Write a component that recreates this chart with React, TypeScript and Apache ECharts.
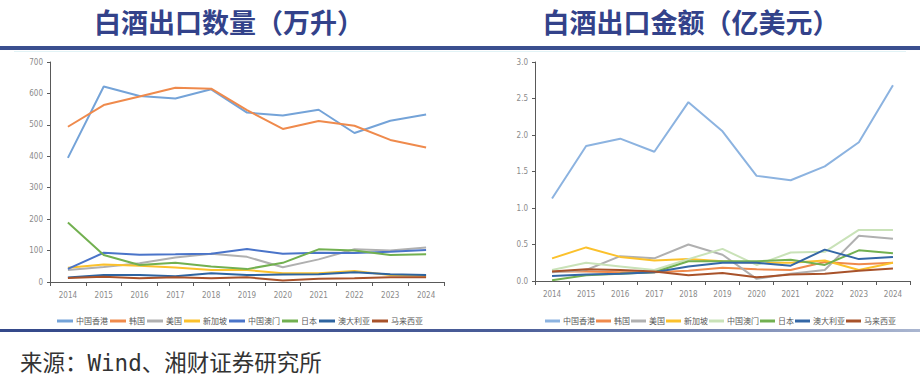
import React, { useEffect, useRef } from "react";
import * as echarts from "echarts";

const years = ["2014", "2015", "2016", "2017", "2018", "2019", "2020", "2021", "2022", "2023", "2024"];
const names = ["中国香港", "韩国", "美国", "新加坡", "中国澳门", "日本", "澳大利亚", "马来西亚"];

// 出口数量（万升）
const volHK = [395, 622, 592, 584, 613, 539, 530, 548, 474, 513, 533];
const volKR = [494, 563, 590, 618, 615, 547, 487, 512, 497, 452, 428];
const volUS = [38, 48, 60, 78, 90, 80, 47, 72, 104, 100, 110];
const volSG = [45, 56, 52, 46, 38, 38, 28, 28, 35, 22, 20];
const volMO = [42, 93, 87, 88, 90, 105, 90, 93, 92, 96, 102];
const volJP = [189, 86, 54, 61, 49, 41, 61, 104, 100, 86, 88];
const volAU = [14, 22, 22, 18, 28, 22, 24, 25, 31, 25, 22];
const volMY = [13, 17, 12, 15, 12, 15, 5, 10, 12, 15, 15];

// 出口金额（亿美元）
const valHK = [1.13, 1.85, 1.95, 1.77, 2.45, 2.05, 1.44, 1.38, 1.57, 1.9, 2.68];
const valKR = [0.13, 0.13, 0.12, 0.12, 0.14, 0.18, 0.16, 0.15, 0.26, 0.23, 0.25];
const valUS = [0.12, 0.15, 0.34, 0.31, 0.5, 0.36, 0.03, 0.1, 0.15, 0.62, 0.58];
const valSG = [0.31, 0.46, 0.33, 0.28, 0.3, 0.27, 0.25, 0.25, 0.28, 0.15, 0.25];
const valMO = [0.15, 0.25, 0.2, 0.15, 0.3, 0.44, 0.22, 0.39, 0.4, 0.7, 0.7];
const valJP = [0.01, 0.08, 0.1, 0.12, 0.27, 0.27, 0.27, 0.29, 0.22, 0.42, 0.38];
const valAU = [0.07, 0.09, 0.1, 0.12, 0.2, 0.25, 0.25, 0.21, 0.43, 0.3, 0.33];
const valMY = [0.13, 0.16, 0.15, 0.13, 0.08, 0.11, 0.05, 0.09, 0.1, 0.14, 0.17];

const volData = [volHK, volKR, volUS, volSG, volMO, volJP, volAU, volMY];
const valData = [valHK, valKR, valUS, valSG, valMO, valJP, valAU, valMY];

const volColors = ["#74a3d8", "#ef8a4c", "#b0b0b0", "#fbc12c", "#4a74c9", "#72b050", "#2e64a0", "#a8522a"];
const valColors = ["#8cb3e0", "#ef8a4c", "#b0b0b0", "#fbc12c", "#c9e2b8", "#72b050", "#3467a6", "#a8522a"];

const titleLeft = "白酒出口数量（万升）";
const titleRight = "白酒出口金额（亿美元）";
const sourceText = "来源：Wind、湘财证券研究所";

const axisFont = "'Liberation Sans Narrow', 'DejaVu Sans Condensed', sans-serif";
const cjkFont = "'Noto Sans CJK SC', sans-serif";

export default function App() {
  const ref = useRef<HTMLDivElement>(null);
  useEffect(() => {
    if (!ref.current) return;
    const chart = echarts.init(ref.current, undefined, { renderer: "svg" });

    const xAxisCommon = {
      type: "category" as const,
      data: years,
      boundaryGap: true,
      axisLine: { lineStyle: { color: "#595959", width: 1 } },
      axisTick: { show: true, length: 4, lineStyle: { color: "#595959" } },
      axisLabel: { fontSize: 8, color: "#8a8a8a", fontFamily: axisFont, margin: 9 },
      splitLine: { show: false },
    };
    const yAxisCommon = {
      type: "value" as const,
      axisLine: { show: true, lineStyle: { color: "#595959", width: 1 } },
      axisTick: { show: true, length: 3, lineStyle: { color: "#595959" } },
      axisLabel: { fontSize: 8, color: "#8a8a8a", fontFamily: axisFont, margin: 7 },
      splitLine: { show: false },
    };

    const series: any[] = [];
    names.forEach((n, i) => {
      series.push({
        name: n,
        type: "line",
        xAxisIndex: 0,
        yAxisIndex: 0,
        data: volData[i],
        symbol: "none",
        lineStyle: { color: volColors[i], width: 2 },
        itemStyle: { color: volColors[i] },
      });
    });
    names.forEach((n, i) => {
      series.push({
        name: n,
        type: "line",
        xAxisIndex: 1,
        yAxisIndex: 1,
        data: valData[i],
        symbol: "none",
        lineStyle: { color: valColors[i], width: 2 },
        itemStyle: { color: valColors[i] },
      });
    });

    const legendCommon = {
      icon: "rect",
      itemHeight: 3,
      selectedMode: false,
      textStyle: { fontSize: 8, color: "#595959", fontFamily: cjkFont, padding: [0, 0, 0, -2] },
    };

    chart.setOption({
      animation: false,
      backgroundColor: "#ffffff",
      grid: [
        { left: 50, top: 62, width: 394, height: 220 },
        { left: 535, top: 62, width: 375, height: 219 },
      ],
      xAxis: [
        { ...xAxisCommon, gridIndex: 0 },
        { ...xAxisCommon, gridIndex: 1 },
      ],
      yAxis: [
        { ...yAxisCommon, gridIndex: 0, min: 0, max: 700, interval: 100 },
        {
          ...yAxisCommon,
          gridIndex: 1,
          min: 0,
          max: 3,
          interval: 0.5,
          axisLabel: { ...yAxisCommon.axisLabel, formatter: (v: number) => v.toFixed(1) },
        },
      ],
      legend: [
        {
          ...legendCommon,
          left: 52,
          top: 312,
          itemWidth: 16,
          itemGap: 2,
          data: names.map((n, i) => ({ name: n, itemStyle: { color: volColors[i] } })),
        },
        {
          ...legendCommon,
          left: 540,
          top: 312,
          itemWidth: 15,
          itemGap: 1,
          data: names.map((n, i) => ({ name: n, itemStyle: { color: valColors[i] } })),
        },
      ],
      graphic: [
        {
          type: "text",
          x: 229,
          y: 21,
          style: {
            text: titleLeft,
            fontSize: 27,
            fontWeight: "bold",
            fontFamily: cjkFont,
            fill: "#33428a",
            align: "center",
            verticalAlign: "middle",
          },
        },
        {
          type: "text",
          x: 691,
          y: 21,
          style: {
            text: titleRight,
            fontSize: 27,
            fontWeight: "bold",
            fontFamily: cjkFont,
            fill: "#33428a",
            align: "center",
            verticalAlign: "middle",
          },
        },
        { type: "rect", shape: { x: 0, y: 46, width: 920, height: 4 }, style: { fill: "#3a4f8f" } },
        {
          type: "line",
          shape: { x1: 14, y1: 51.5, x2: 906, y2: 51.5 },
          style: { stroke: "#e2f3f6", lineWidth: 1 },
        },
        {
          type: "rect",
          shape: { x: 0, y: 329, width: 920, height: 3 },
          style: {
            fill: new echarts.graphic.LinearGradient(0, 0, 1, 0, [
              { offset: 0, color: "#34498a" },
              { offset: 0.55, color: "#4a5d98" },
              { offset: 1, color: "#aab6d0" },
            ]),
          },
        },
        {
          type: "text",
          x: 20,
          y: 363,
          style: {
            text: sourceText,
            fontSize: 22.5,
            fontFamily: "'DejaVu Sans Mono', 'Noto Sans CJK SC', monospace",
            fill: "#333333",
            align: "left",
            verticalAlign: "middle",
          },
        },
      ],
      series,
    });

    return () => chart.dispose();
  }, []);

  return (
    <div
      ref={ref}
      style={{ position: "absolute", left: 0, top: 0, width: 920, height: 378, background: "#fff" }}
    />
  );
}
